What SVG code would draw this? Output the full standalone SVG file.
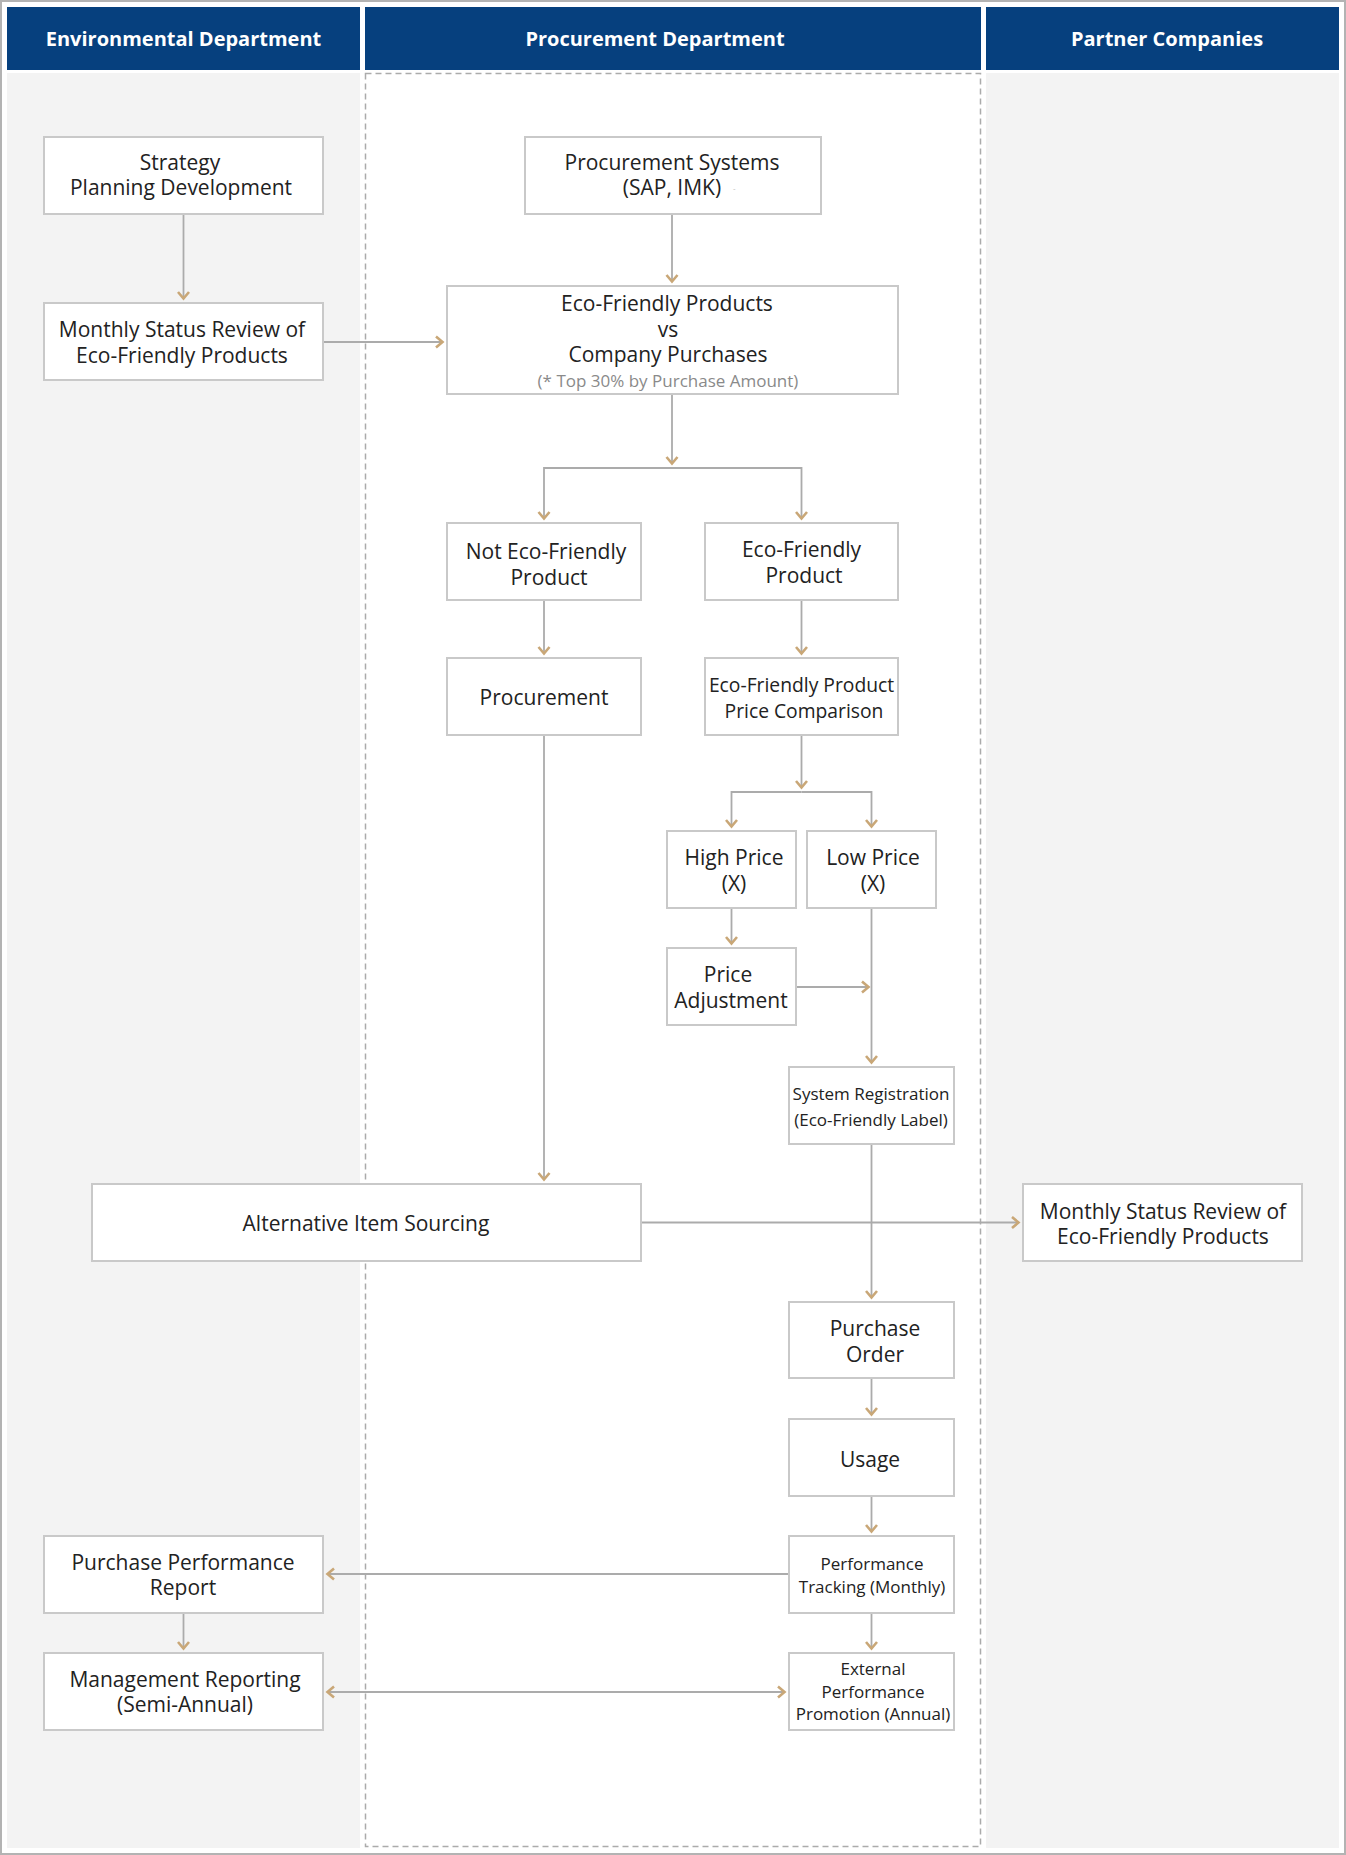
<svg xmlns="http://www.w3.org/2000/svg" width="1346" height="1855" viewBox="0 0 1346 1855">
<defs>
<style>
.hdr{fill:#06407e}
.ht{font-family:"Open Sans","Noto Sans",sans-serif;font-weight:700;font-size:20px;fill:#fff;text-anchor:middle;dominant-baseline:central}
.box{fill:#fff;stroke:#c9c9c9;stroke-width:2}
.t{font-family:"Open Sans","Noto Sans",sans-serif;font-size:21px;fill:#222;text-anchor:middle;dominant-baseline:central}
.t18{font-size:19.3px}
.t16{font-size:17px}
.t15{font-size:17px}
.note{font-family:"Open Sans","Noto Sans",sans-serif;font-size:17px;fill:#8a8a8a;text-anchor:middle;dominant-baseline:central}
.ln{fill:none;stroke:#ababab;stroke-width:1.8}
.arr{marker-end:url(#ah)}
</style>
<marker id="ah" viewBox="0 0 12 14" refX="10" refY="7" markerWidth="12" markerHeight="14" markerUnits="userSpaceOnUse" orient="auto-start-reverse">
<path d="M3,1.5 L9.5,7 L3,12.5" fill="none" stroke="#c9a777" stroke-width="2.6"/>
</marker>
</defs>
<g id="background">
<rect x="1" y="1" width="1344" height="1853" fill="#fff" stroke="#b3b3b3" stroke-width="2"/>
<rect x="7" y="73" width="353" height="1775" fill="#f3f3f3"/>
<rect x="986" y="73" width="353" height="1775" fill="#f3f3f3"/>
<rect x="365.5" y="73.5" width="615" height="1773" fill="#fff" stroke="#ababab" stroke-width="1.5" stroke-dasharray="6,4"/>
</g>
<g id="headers">
<rect class="hdr" x="7" y="7" width="353" height="63"/>
<text class="ht" x="183.5" y="38">Environmental Department</text>
<rect class="hdr" x="365" y="7" width="616" height="63"/>
<text class="ht" x="655" y="38">Procurement Department</text>
<rect class="hdr" x="986" y="7" width="353" height="63"/>
<text class="ht" x="1167" y="38">Partner Companies</text>
</g>
<g id="connectors">
<path class="ln arr" d="M183.5,214 V299"/>
<path class="ln arr" d="M323,342 H443"/>
<path class="ln arr" d="M672,214 V282"/>
<path class="ln arr" d="M672,394 V464"/>
<path class="ln arr" d="M672,468 H544 V519"/>
<path class="ln arr" d="M672,468 H801.5 V519"/>
<path class="ln arr" d="M544,601 V654"/>
<path class="ln arr" d="M801.5,601 V654"/>
<path class="ln arr" d="M801.5,735 V788"/>
<path class="ln arr" d="M801.5,792 H731.5 V827"/>
<path class="ln arr" d="M801.5,792 H871.5 V827"/>
<path class="ln arr" d="M731.5,908 V944"/>
<path class="ln arr" d="M796,987 H869"/>
<path class="ln arr" d="M871.5,908 V1063"/>
<path class="ln arr" d="M544,735 V1180"/>
<path class="ln arr" d="M641,1222.5 H1019"/>
<path class="ln arr" d="M871.5,1144 V1298"/>
<path class="ln arr" d="M871.5,1378 V1415"/>
<path class="ln arr" d="M871.5,1496 V1532"/>
<path class="ln arr" d="M871.5,1613 V1649"/>
<path class="ln arr" d="M789,1574 H327"/>
<path class="ln arr" d="M183.5,1613 V1649"/>
<path class="ln arr" d="M327,1692 H785" marker-start="url(#ah)"/>
</g>
<g id="n-strategy">
<rect class="box" x="44" y="137" width="279" height="77"/>
<text class="t" x="180" y="162">Strategy</text>
<text class="t" x="181" y="187">Planning Development</text>
</g>
<g id="n-monthly-env">
<rect class="box" x="44" y="303" width="279" height="77"/>
<text class="t" x="182" y="329">Monthly Status Review of</text>
<text class="t" x="182" y="355">Eco-Friendly Products</text>
</g>
<g id="n-procsys">
<rect class="box" x="525" y="137" width="296" height="77"/>
<text class="t" x="672" y="162">Procurement Systems</text>
<text class="t" x="672" y="187">(SAP, IMK)</text>
<text x="733" y="187" font-family="Open Sans, sans-serif" font-size="8" fill="#bbb" dominant-baseline="central">-</text>
</g>
<g id="n-compare">
<rect class="box" x="447" y="286" width="451" height="108"/>
<text class="t" x="667" y="303">Eco-Friendly Products</text>
<text class="t" x="668" y="328.5">vs</text>
<text class="t" x="668" y="354">Company Purchases</text>
<text class="note" x="668" y="380">(* Top 30% by Purchase Amount)</text>
</g>
<g id="n-noteco">
<rect class="box" x="447" y="523" width="194" height="77"/>
<text class="t" x="546" y="551">Not Eco-Friendly</text>
<text class="t" x="549" y="577">Product</text>
</g>
<g id="n-eco">
<rect class="box" x="705" y="523" width="193" height="77"/>
<text class="t" x="801.5" y="549">Eco-Friendly</text>
<text class="t" x="804" y="575">Product</text>
</g>
<g id="n-procurement">
<rect class="box" x="447" y="658" width="194" height="77"/>
<text class="t" x="544" y="697">Procurement</text>
</g>
<g id="n-pricecomp">
<rect class="box" x="705" y="658" width="193" height="77"/>
<text class="t t18" x="801.5" y="684">Eco-Friendly Product</text>
<text class="t t18" x="804" y="710">Price Comparison</text>
</g>
<g id="n-high">
<rect class="box" x="667" y="831" width="129" height="77"/>
<text class="t" x="734" y="857">High Price</text>
<text class="t" x="734" y="883">(X)</text>
</g>
<g id="n-low">
<rect class="box" x="807" y="831" width="129" height="77"/>
<text class="t" x="873" y="857">Low Price</text>
<text class="t" x="873" y="883">(X)</text>
</g>
<g id="n-adjust">
<rect class="box" x="667" y="948" width="129" height="77"/>
<text class="t" x="728" y="974">Price</text>
<text class="t" x="731" y="1000">Adjustment</text>
</g>
<g id="n-sysreg">
<rect class="box" x="789" y="1067" width="165" height="77"/>
<text class="t t16" x="871" y="1093">System Registration</text>
<text class="t t16" x="871" y="1119">(Eco-Friendly Label)</text>
</g>
<g id="n-alt">
<rect class="box" x="92" y="1184" width="549" height="77"/>
<text class="t" x="366" y="1223">Alternative Item Sourcing</text>
</g>
<g id="n-monthly-partner">
<rect class="box" x="1023" y="1184" width="279" height="77"/>
<text class="t" x="1163" y="1211">Monthly Status Review of</text>
<text class="t" x="1163" y="1236">Eco-Friendly Products</text>
</g>
<g id="n-po">
<rect class="box" x="789" y="1302" width="165" height="76"/>
<text class="t" x="875" y="1328">Purchase</text>
<text class="t" x="875" y="1354">Order</text>
</g>
<g id="n-usage">
<rect class="box" x="789" y="1419" width="165" height="77"/>
<text class="t" x="870" y="1459">Usage</text>
</g>
<g id="n-tracking">
<rect class="box" x="789" y="1536" width="165" height="77"/>
<text class="t t15" x="872" y="1563">Performance</text>
<text class="t t15" x="872" y="1586">Tracking (Monthly)</text>
</g>
<g id="n-external">
<rect class="box" x="789" y="1653" width="165" height="77"/>
<text class="t t15" x="873" y="1668">External</text>
<text class="t t15" x="873" y="1691">Performance</text>
<text class="t t15" x="873" y="1713">Promotion (Annual)</text>
</g>
<g id="n-perfreport">
<rect class="box" x="44" y="1536" width="279" height="77"/>
<text class="t" x="183" y="1562">Purchase Performance</text>
<text class="t" x="183" y="1587">Report</text>
</g>
<g id="n-mgmt">
<rect class="box" x="44" y="1653" width="279" height="77"/>
<text class="t" x="185" y="1679">Management Reporting</text>
<text class="t" x="185" y="1704">(Semi-Annual)</text>
</g>
</svg>
